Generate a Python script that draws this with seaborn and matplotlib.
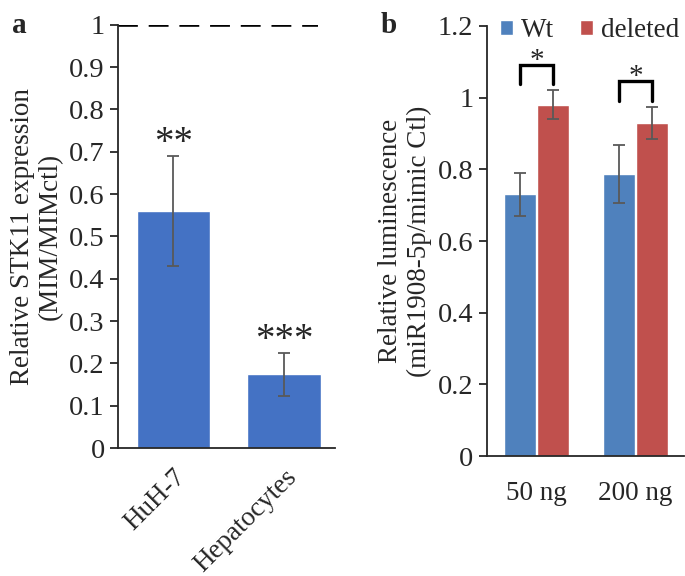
import numpy as np
import pandas as pd
import matplotlib
matplotlib.use("Agg")
import matplotlib.pyplot as plt
import seaborn as sns

# Panel a data
cells = ["HuH-7", "Hepatocytes"]
stk11_mean = [0.56, 0.174]
stk11_err = [0.13, 0.05]
stk11_stars = ["**", "***"]

# Panel b data
doses = ["50 ng", "200 ng"]
constructs = ["Wt", "deleted"]
lum_wt = [0.73, 0.787]
lum_del = [0.98, 0.93]
err_wt = [0.06, 0.08]
err_del = [0.04, 0.045]

sns.set_style("ticks")
plt.rcParams["font.family"] = ["Liberation Serif", "DejaVu Serif"]
plt.rcParams["axes.linewidth"] = 1.3

BLUE_A = "#4472C4"
PAL_B = {"Wt": "#4F81BD", "deleted": "#C0504D"}
ERR_C = "#595959"
FS = 20.5
FS_LAB = 19.5

fig = plt.figure(figsize=(6.85, 5.76), dpi=100)
ax1 = fig.add_axes([0.172, 0.222, 0.317, 0.735])
ax2 = fig.add_axes([0.7105, 0.208, 0.288, 0.747])

# ---- panel a ----
df_a = pd.DataFrame({"cell": cells, "val": stk11_mean})
sns.barplot(data=df_a, x="cell", y="val", color=BLUE_A, saturation=1,
            width=0.665, errorbar=None, ax=ax1)
for p, e, s in zip(ax1.patches, stk11_err, stk11_stars):
    cx = p.get_x() + p.get_width() / 2
    h = p.get_height()
    ax1.errorbar(cx, h, yerr=e, color=ERR_C, capsize=4, elinewidth=1.3, capthick=1.3)
    ax1.text(cx, h + e + 0.03, s, ha="center", va="center", fontsize=28)
ax1.axhline(1, xmin=0, xmax=0.92, color="black", lw=2.6, ls=(0, (5.5, 3)))
ax1.set_xlim(-0.502, 1.46)
ax1.set_ylim(0, 1)
ax1.set_yticks(np.arange(0, 1.01, 0.1))
ax1.set_yticklabels(["0"] + [f"{v:.1f}" for v in np.arange(0.1, 0.95, 0.1)] + ["1"])
ax1.set_xlabel("")
ax1.set_ylabel("Relative STK11 expression\n(MIM/MIMctl)", fontsize=FS_LAB, linespacing=1.2)
ax1.tick_params(axis="y", labelsize=FS, length=6, width=1.3, direction="out")
ax1.tick_params(axis="x", labelsize=FS_LAB, length=0, pad=12)
plt.setp(ax1.get_xticklabels(), rotation=45, ha="right", rotation_mode="anchor")
sns.despine(ax=ax1)

# ---- panel b ----
df_b = pd.DataFrame({
    "dose": doses * 2,
    "construct": ["Wt"] * 2 + ["deleted"] * 2,
    "val": lum_wt + lum_del,
})
sns.barplot(data=df_b, x="dose", y="val", hue="construct", hue_order=constructs,
            palette=PAL_B, saturation=1, width=0.675, gap=0.04,
            errorbar=None, ax=ax2)
errs = err_wt + err_del
bars = [p for p in ax2.patches if p.get_height() > 0][:4]
centers = []
for p, e in zip(bars, errs):
    cx = p.get_x() + p.get_width() / 2
    h = p.get_height()
    centers.append((cx, h))
    ax2.errorbar(cx, h, yerr=e, color=ERR_C, capsize=4, elinewidth=1.3, capthick=1.3)
# significance brackets
for i in range(2):
    (x0, h0), (x1, h1) = centers[i], centers[i + 2]
    top = h1 + errs[i + 2] + 0.07
    ax2.plot([x0, x0, x1, x1], [top - 0.053, top, top, top - 0.053],
             color="black", lw=2.4, solid_joinstyle="miter")
    ax2.text((x0 + x1) / 2, top + 0.012, "*", ha="center", va="center", fontsize=21)
ax2.set_xlim(-0.504, 1.49)
ax2.set_ylim(0, 1.2)
ax2.set_yticks([0, 0.2, 0.4, 0.6, 0.8, 1.0, 1.2])
ax2.set_yticklabels(["0", "0.2", "0.4", "0.6", "0.8", "1", "1.2"])
ax2.set_xlabel("")
ax2.set_ylabel("Relative luminescence\n(miR1908-5p/mimic Ctl)", fontsize=FS_LAB, linespacing=1.2)
ax2.tick_params(axis="y", labelsize=FS, length=6, width=1.3, direction="out")
ax2.tick_params(axis="x", labelsize=FS_LAB, length=0, pad=18)
sns.despine(ax=ax2)
ax2.legend(loc="center right", bbox_to_anchor=(0.975, 0.99), ncol=2, frameon=False,
           fontsize=FS_LAB, handlelength=0.48, handleheight=0.48, handletextpad=0.3,
           columnspacing=0.95, borderaxespad=0, borderpad=0)

fig.text(0.018, 0.955, "a", fontsize=21, fontweight="bold", va="center")
fig.text(0.556, 0.955, "b", fontsize=21, fontweight="bold", va="center")

fig.savefig("out.png", dpi=100)
